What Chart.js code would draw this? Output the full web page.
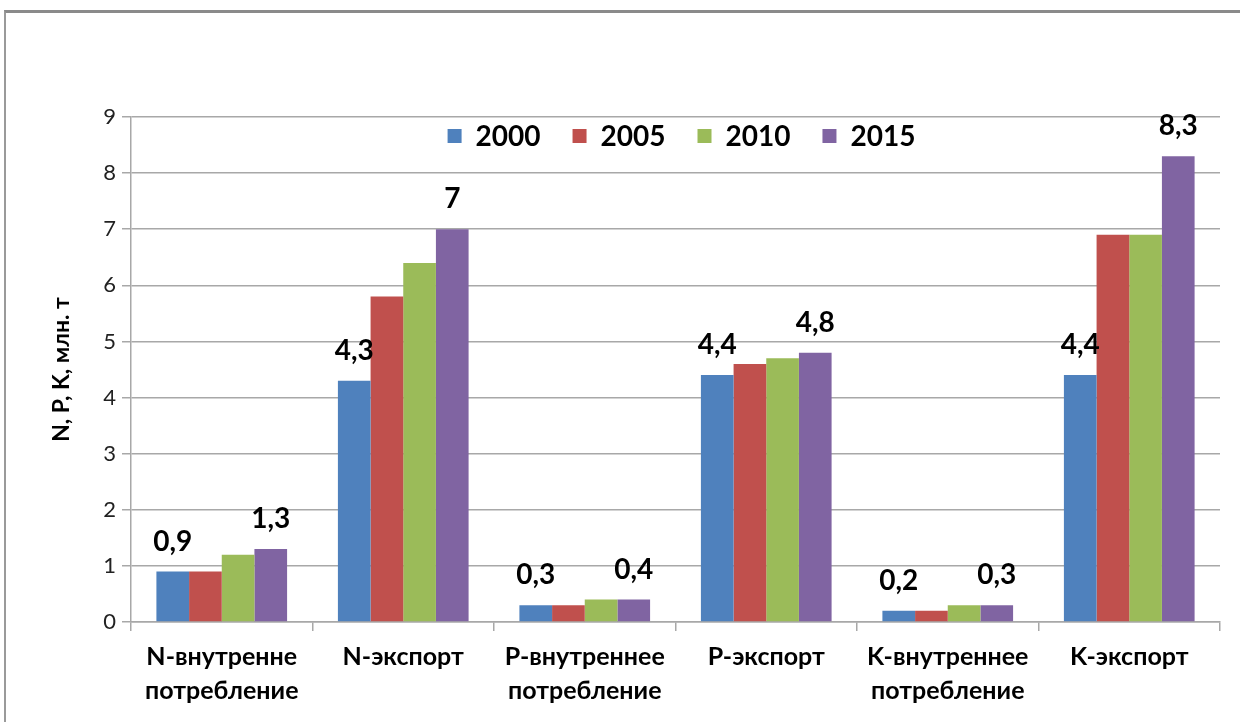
<!DOCTYPE html>
<html>
<head>
<meta charset="utf-8">
<script src="https://cdn.jsdelivr.net/npm/chart.js@4.4.0/dist/chart.umd.min.js"></script>
<style>
  html, body { margin: 0; padding: 0; background: #fff; }
  #wrap { position: relative; width: 1240px; height: 722px; overflow: hidden; }
  #frame { position: absolute; left: 4px; top: 10px; width: 1300px; height: 800px;
           border-top: 3px solid #8a8a8a; border-left: 2px solid #9a9a9a; }
  canvas { position: absolute; left: 0; top: 0; }
</style>
</head>
<body>
<div id="wrap">
  <div id="frame"></div>
  <canvas id="myChart" width="1240" height="722"></canvas>
</div>
<script>
// категории и значения (млн. т)
const categories = [
    ['N-внутренне', 'потребление'],
    'N-экспорт',
    ['P-внутреннее', 'потребление'],
    'P-экспорт',
    ['K-внутреннее', 'потребление'],
    'K-экспорт'
];
const years = ['2000', '2005', '2010', '2015'];
const v2000 = [0.9, 4.3, 0.3, 4.4, 0.2, 4.4];
const v2005 = [0.9, 5.8, 0.3, 4.6, 0.2, 6.9];
const v2010 = [1.2, 6.4, 0.4, 4.7, 0.3, 6.9];
const v2015 = [1.3, 7.0, 0.4, 4.8, 0.3, 8.3];
const yTicks = [0, 1, 2, 3, 4, 5, 6, 7, 8, 9];
const colors = ['#4F81BD', '#C0504D', '#9BBB59', '#8064A2'];

const FONT = 'Lato, "Open Sans", sans-serif';
const gridColor = '#a8a8a8';

// подписи над столбиками только для 2000 и 2015
const labelsPlugin = {
    id: 'barLabels',
    afterDatasetsDraw(chart) {
        const ctx = chart.ctx;
        ctx.save();
        ctx.font = 'bold 28px ' + FONT;
        ctx.fillStyle = '#000';
        ctx.textAlign = 'center';
        ctx.textBaseline = 'alphabetic';
        [0, 3].forEach(di => {
            const meta = chart.getDatasetMeta(di);
            meta.data.forEach((bar, i) => {
                const val = chart.data.datasets[di].data[i];
                ctx.fillText(String(val).replace('.', ','), bar.x, bar.y - 21);
            });
        });
        ctx.restore();
    }
};

// легенда внутри области графика
const legendPlugin = {
    id: 'innerLegend',
    afterDraw(chart) {
        const ctx = chart.ctx;
        const area = chart.chartArea;
        ctx.save();
        ctx.font = 'bold 28px ' + FONT;
        const box = 14, gapBox = 14, gapItem = 32;
        const items = chart.data.datasets.map(ds => ({ text: ds.label, color: ds.backgroundColor, w: ctx.measureText(ds.label).width }));
        let total = 0;
        items.forEach((it, i) => { total += box + gapBox + it.w + (i < items.length - 1 ? gapItem : 0); });
        let x = (area.left + area.right) / 2 + 6 - total / 2;
        const y = 136;
        ctx.textBaseline = 'middle';
        ctx.textAlign = 'left';
        items.forEach(it => {
            ctx.fillStyle = it.color;
            ctx.fillRect(x, y - box / 2, box, box);
            x += box + gapBox;
            ctx.fillStyle = '#000';
            ctx.fillText(it.text, x, y + 1);
            x += it.w + gapItem;
        });
        ctx.restore();
    }
};

const ctx = document.getElementById('myChart').getContext('2d');
const myChart = new Chart(ctx, {
    type: 'bar',
    data: {
        labels: categories,
        datasets: [v2000, v2005, v2010, v2015].map((d, i) => ({
            label: years[i],
            data: d,
            backgroundColor: colors[i],
            borderWidth: 0,
            categoryPercentage: 0.72,
            barPercentage: 1.0
        }))
    },
    options: {
        responsive: false,
        animation: false,
        layout: { padding: { top: 117, right: 20, left: 0, bottom: 0 } },
        plugins: {
            legend: { display: false },
            tooltip: { enabled: false }
        },
        scales: {
            x: {
                grid: { display: true, drawOnChartArea: false, offset: true, tickLength: 9, color: gridColor, lineWidth: 1.5 },
                border: { color: gridColor, width: 1.5 },
                ticks: {
                    color: '#000',
                    font: { family: FONT, size: 25, weight: 'bold', lineHeight: 1.36 },
                    padding: 9,
                    maxRotation: 0,
                    autoSkip: false
                },
                afterFit(s) { s.height = 100; }
            },
            y: {
                min: 0,
                max: 9,
                afterBuildTicks(s) { s.ticks = yTicks.map(v => ({ value: v })); },
                grid: { color: gridColor, lineWidth: 1.5, tickLength: 9 },
                border: { color: gridColor, width: 1.5 },
                ticks: {
                    color: '#222',
                    font: { family: FONT, size: 22 },
                    padding: 6
                },
                title: {
                    display: true,
                    text: 'N, P, K, млн. т',
                    color: '#000',
                    font: { family: FONT, size: 23, weight: 'bold' },
                    padding: { top: 48, bottom: 0 }
                },
                afterFit(s) { s.width = 131; }
            }
        }
    },
    plugins: [labelsPlugin, legendPlugin]
});
</script>
</body>
</html>
